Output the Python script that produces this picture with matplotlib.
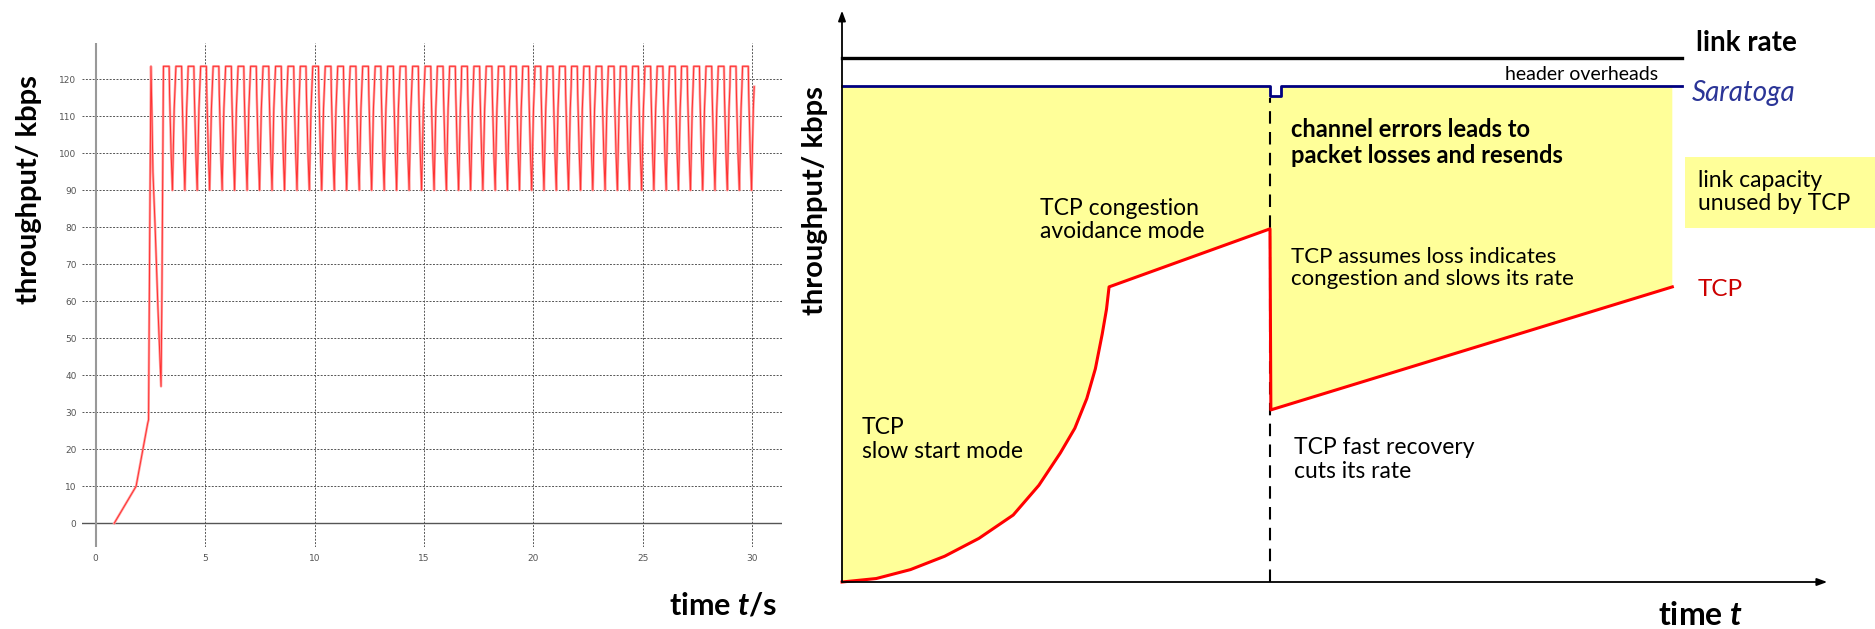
import numpy as np
import matplotlib.pyplot as plt
from matplotlib.patches import Rectangle

plt.rcParams['font.family'] = ['Lato', 'DejaVu Sans']
plt.rcParams['mathtext.fontset'] = 'custom'
plt.rcParams['mathtext.it'] = 'Lato:italic:bold'
plt.rcParams['mathtext.rm'] = 'Lato:bold'

# ---- left: measured throughput (kbps over seconds) ----
ramp_t = [0.85, 1.85, 2.38, 2.42, 2.47, 2.53, 2.57, 2.62, 2.72, 2.85, 2.99, 3.03, 3.07]
ramp_v = [0, 10, 27, 28, 75, 123.5, 112, 95, 80, 58, 37, 62, 95]

# one sawtooth cycle, offsets from the start of each plateau
cycle_dt = [0.00, 0.26, 0.28, 0.30, 0.32, 0.35, 0.38, 0.41, 0.45, 0.49, 0.53]
cycle_v = [123.5, 123.5, 116, 112, 107, 100, 95, 90, 101, 112, 118]

plateau_starts = [3.10, 3.67, 4.23, 4.80, 5.37, 5.94, 6.51, 7.08, 7.65, 8.22, 8.79,
                  9.35, 9.92, 10.49, 11.06, 11.63, 12.20, 12.77, 13.34, 13.91, 14.48,
                  15.05, 15.61, 16.17, 16.72, 17.28, 17.84, 18.40, 18.95, 19.51, 20.07,
                  20.63, 21.19, 21.74, 22.30, 22.86, 23.42, 23.97, 24.53, 25.09, 25.65,
                  26.21, 26.76, 27.32, 27.88, 28.44, 28.99, 29.55]

x_ticks = [0, 5, 10, 15, 20, 25, 30]
y_ticks = [0, 10, 20, 30, 40, 50, 60, 70, 80, 90, 100, 110, 120]

# ---- right: schematic ----
slow_t = [0, 0.4, 0.8, 1.2, 1.6, 2.0, 2.3, 2.55, 2.72, 2.86, 2.96, 3.04, 3.09, 3.12]
slow_y = [0, 0.7, 2.5, 5.2, 8.8, 13.5, 19.5, 26.0, 31.0, 37.0, 43.0, 50.0, 55.0, 59.5]
avoid_t = [5.0, 5.01, 9.70]
avoid_y = [71.2, 34.7, 59.5]
sara_t = [0, 5.0, 5.0, 5.13, 5.13, 9.81]
sara_y = [100, 100, 98, 98, 100, 100]
link_t = [0, 9.81]
link_y = [105.7, 105.7]
loss_t = 5.0

W, H = 1875, 629
fig = plt.figure(figsize=(W / 100, H / 100), dpi=100)


def px_box(x0, y0, x1, y1):
    return [x0 / W, 1 - y1 / H, (x1 - x0) / W, (y1 - y0) / H]


ax1 = fig.add_axes(px_box(82, 43, 782, 547))
ax1.set_xlim(-0.62, 31.35)
ax1.set_ylim(-6.4, 129.8)
for s in ax1.spines.values():
    s.set_visible(False)
ax1.set_xticks(x_ticks)
ax1.set_yticks(y_ticks)
ax1.tick_params(length=0, labelsize=6.5, labelcolor='#555555')
ax1.tick_params(axis='x', pad=5)
ax1.tick_params(axis='y', pad=4)
for lbl in ax1.get_xticklabels() + ax1.get_yticklabels():
    lbl.set_family('DejaVu Sans')
for v in x_ticks[1:]:
    ax1.axvline(v, color='#555555', lw=0.7, ls=(0, (2, 1.5)), zorder=1)
for h in y_ticks[1:]:
    ax1.axhline(h, color='#555555', lw=0.7, ls=(0, (2, 1.5)), zorder=1)
ax1.axhline(0, color='#555555', lw=1.0, zorder=2)
ax1.axvline(0, color='#999999', lw=1.5, zorder=2)

t_all = ramp_t + [s + dt for s in plateau_starts for dt in cycle_dt]
v_all = ramp_v + cycle_v * len(plateau_starts)
ax1.plot(t_all, v_all, color='#ffa0a0', lw=1.8, zorder=3)
ax1.plot(t_all, v_all, color='#ff3030', lw=0.7, zorder=4)

fig.text(29 / W, 1 - 190 / H, 'throughput/ kbps', rotation=90, fontsize=21,
         fontweight='bold', ha='center', va='center')
fig.text(777 / W, 1 - 605 / H, 'time $t$/s', ha='right', va='center',
         fontsize=22, fontweight='bold')

# right panel in its own units
ax2 = fig.add_axes(px_box(790, 0, 1875, 629))
ax2.set_xlim((790 - 842) / 85.6, (1875 - 842) / 85.6)
ax2.set_ylim((582 - 629) / 4.96, 582 / 4.96)
ax2.axis('off')

tcp_t = np.array(slow_t + avoid_t)
tcp_y = np.array(slow_y + avoid_y)
top_t = np.minimum(np.array(sara_t), tcp_t[-1])
top_y = np.array(sara_y)
poly_t = np.concatenate([tcp_t, top_t[::-1]])
poly_y = np.concatenate([tcp_y, top_y[::-1]])
ax2.fill(poly_t, poly_y, color='#ffff99', lw=0, zorder=1)

ax2.plot(link_t, link_y, color='black', lw=2.4, zorder=3)
ax2.plot(sara_t, sara_y, color='#000080', lw=2.0, zorder=3)
ax2.plot(tcp_t, tcp_y, color='#ff0000', lw=2.2, zorder=4, solid_joinstyle='round')
ax2.plot([loss_t, loss_t], [0, 97.5], color='black', lw=1.5, ls=(0, (6, 4)), zorder=3)

arrow = dict(arrowstyle='-|>,head_length=0.6,head_width=0.22', lw=1.3,
             color='black', shrinkA=0, shrinkB=0)
ax2.annotate('', xy=(0, 115.2), xytext=(0, 0), arrowprops=arrow, zorder=5)
ax2.annotate('', xy=(11.51, 0), xytext=(0, 0), arrowprops=arrow, zorder=5)

fs = 16.5
ax2.text(0.23, 28.75, 'TCP\nslow start mode', fontsize=fs, va='center', linespacing=1.15)
ax2.text(2.31, 73.0, 'TCP congestion\navoidance mode', fontsize=fs, va='center', linespacing=1.15)
ax2.text(5.25, 88.6, 'channel errors leads to\npacket losses and resends', fontsize=17,
         fontweight='bold', va='center', linespacing=1.15)
ax2.text(5.25, 63.3, 'TCP assumes loss indicates\ncongestion and slows its rate',
         fontsize=16, va='center', linespacing=1.15)
ax2.text(5.28, 24.7, 'TCP fast recovery\ncuts its rate', fontsize=fs, va='center',
         linespacing=1.15)
ax2.text(9.53, 102.4, 'header overheads', fontsize=14, ha='right', va='center')
ax2.text(9.98, 108.7, 'link rate', fontsize=20, fontweight='bold', va='center')
ax2.text(9.93, 98.6, 'Saratoga', fontsize=20, style='italic', color='#2b3597', va='center')
ax2.add_patch(Rectangle((9.85, 71.4), 3.0, 14.3, color='#ffff99', lw=0, zorder=1))
ax2.text(10.0, 78.6, 'link capacity\nunused by TCP', fontsize=fs, va='center',
         linespacing=1.15, zorder=2)
ax2.text(10.0, 58.9, 'TCP', fontsize=17.5, color='#cc0000', va='center')
ax2.text(10.03, -6.85, 'time $t$', fontsize=23, fontweight='bold', ha='center', va='center')
ax2.text(-0.315, 77.0, 'throughput/ kbps', fontsize=21, fontweight='bold',
         rotation=90, ha='center', va='center')

fig.savefig('out.png', dpi=100)
